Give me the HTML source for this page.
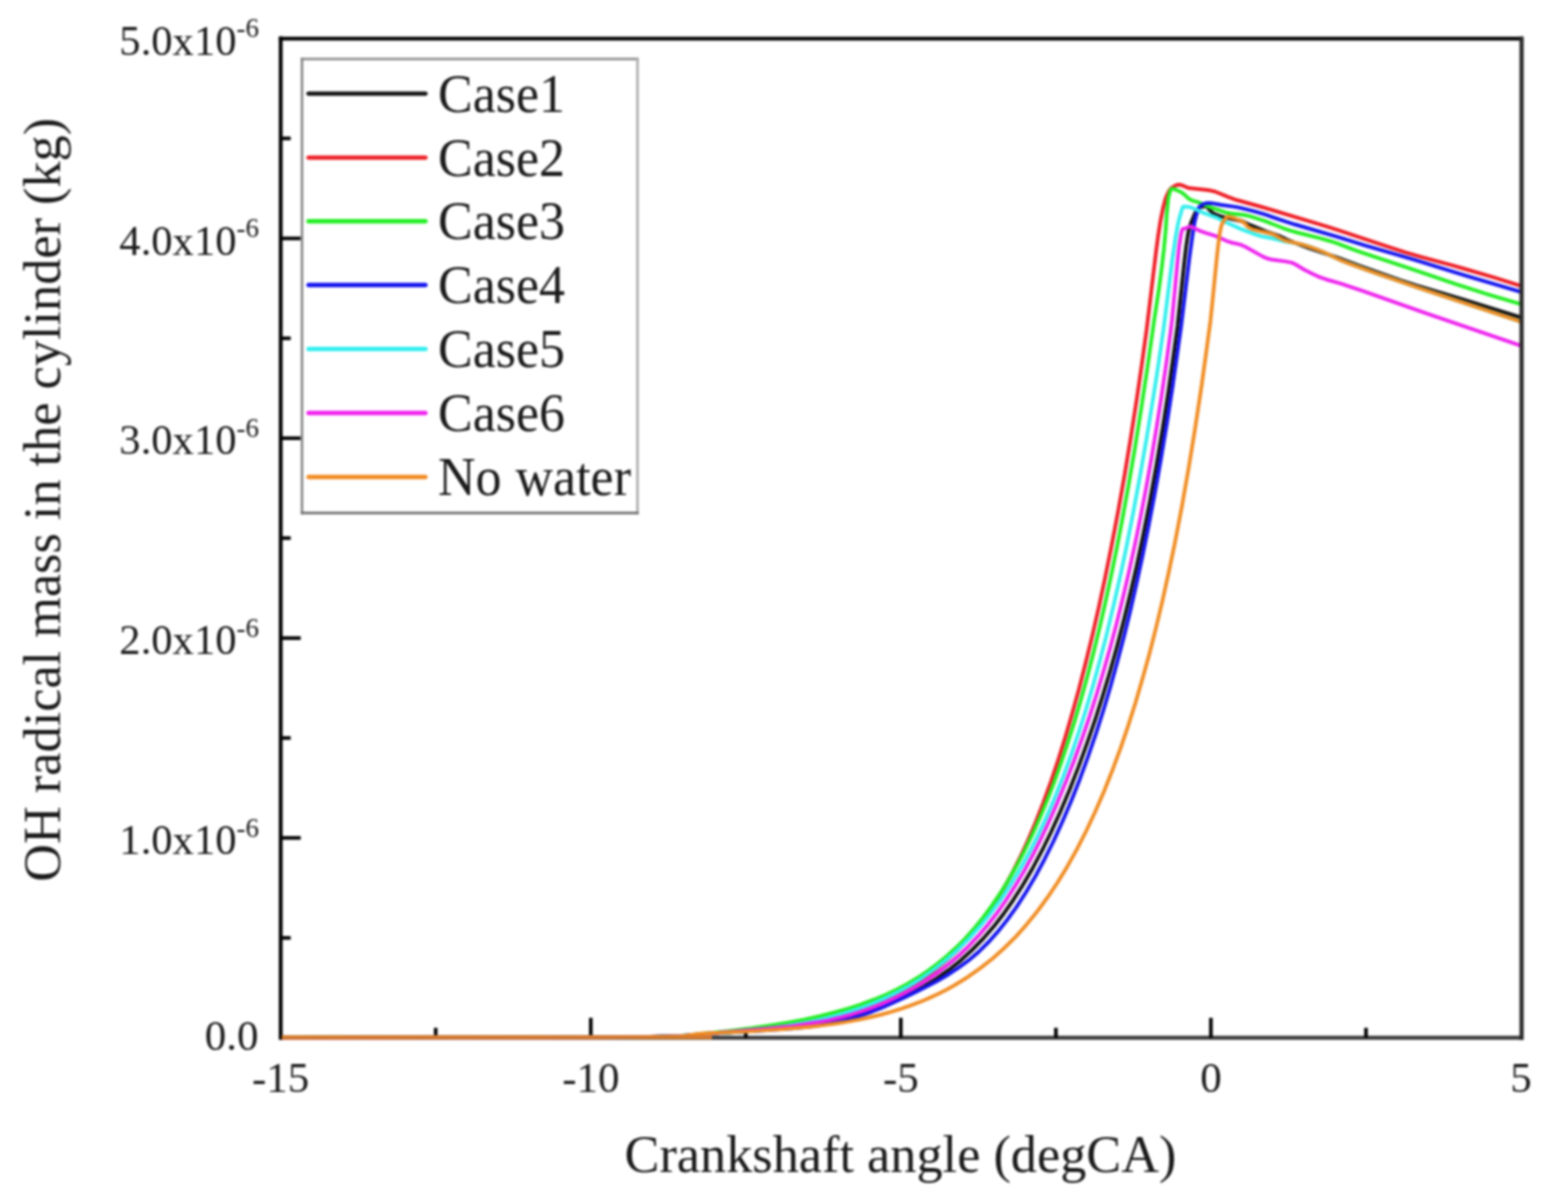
<!DOCTYPE html>
<html><head><meta charset="utf-8"><title>OH radical mass</title>
<style>
html,body{margin:0;padding:0;background:#fff;}
body{width:1547px;height:1201px;overflow:hidden;}
#w{filter:blur(0.8px);width:1547px;height:1201px;}
svg{display:block;font-family:"Liberation Serif","Times New Roman",serif;}
</style></head><body><div id="w">
<svg width="1547" height="1201" viewBox="0 0 1547 1201">
<rect width="1547" height="1201" fill="#fff"/>
<defs><clipPath id="c"><rect x="280.7" y="38.5" width="1240.3" height="1001.3"/></clipPath></defs>
<line x1="280.7" y1="1037.8" x2="1521.0" y2="1037.8" stroke="#3a3a3a" stroke-width="4"/>
<g stroke="#000" stroke-width="3.6"><line x1="435.7" y1="1037.8" x2="435.7" y2="1027.8"/><line x1="590.8" y1="1037.8" x2="590.8" y2="1017.8"/><line x1="745.8" y1="1037.8" x2="745.8" y2="1027.8"/><line x1="900.8" y1="1037.8" x2="900.8" y2="1017.8"/><line x1="1055.9" y1="1037.8" x2="1055.9" y2="1027.8"/><line x1="1210.9" y1="1037.8" x2="1210.9" y2="1017.8"/><line x1="1366.0" y1="1037.8" x2="1366.0" y2="1027.8"/><line x1="280.7" y1="937.9" x2="290.7" y2="937.9"/><line x1="280.7" y1="837.9" x2="300.7" y2="837.9"/><line x1="280.7" y1="738.0" x2="290.7" y2="738.0"/><line x1="280.7" y1="638.1" x2="300.7" y2="638.1"/><line x1="280.7" y1="538.1" x2="290.7" y2="538.1"/><line x1="280.7" y1="438.2" x2="300.7" y2="438.2"/><line x1="280.7" y1="338.3" x2="290.7" y2="338.3"/><line x1="280.7" y1="238.4" x2="300.7" y2="238.4"/><line x1="280.7" y1="138.4" x2="290.7" y2="138.4"/></g>
<g clip-path="url(#c)" fill="none" stroke-width="3.7" stroke-linejoin="round" stroke-linecap="round">
<path d="M280.7,1037.8 L535.5,1037.7 L603.7,1037.5 L637.2,1037.1 L663.0,1036.6 L686.2,1035.7 L759.0,1030.4 L786.7,1027.9 L798.2,1026.5 L808.7,1025.1 L819.0,1023.3 L829.0,1021.4 L838.7,1019.2 L849.0,1016.7 L859.5,1013.7 L869.7,1010.5 L879.5,1007.1 L889.0,1003.5 L898.2,999.5 L907.0,995.5 L915.5,991.1 L924.0,986.4 L937.0,978.3 L949.2,969.6 L961.0,960.2 L972.2,949.9 L983.0,938.9 L993.5,926.8 L1003.5,914.0 L1013.2,900.1 L1022.7,885.3 L1032.5,868.5 L1042.2,850.2 L1051.2,831.8 L1060.2,812.0 L1069.5,790.0 L1078.5,766.9 L1087.2,742.9 L1095.0,720.2 L1102.7,695.9 L1110.0,671.5 L1117.0,646.5 L1123.7,620.6 L1130.2,594.0 L1136.5,566.6 L1142.7,537.4 L1149.7,502.0 L1156.2,466.4 L1162.5,429.3 L1168.5,390.6 L1173.2,357.6 L1177.5,326.0 L1184.5,260.1 L1186.0,247.6 L1187.5,237.2 L1188.7,230.7 L1190.7,223.8 L1194.7,214.0 L1196.0,211.5 L1197.0,210.1 L1199.0,208.1 L1200.5,207.2 L1203.7,206.5 L1206.2,206.4 L1207.5,207.3 L1210.0,210.3 L1212.5,212.8 L1214.2,213.8 L1217.0,215.1 L1220.5,216.2 L1226.2,217.8 L1237.7,220.1 L1242.5,221.4 L1248.7,224.4 L1255.7,227.3 L1266.0,231.4 L1279.7,236.2 L1289.5,240.8 L1298.0,244.1 L1308.7,248.0 L1337.2,257.5 L1359.2,265.7 L1383.2,274.3 L1401.0,280.5 L1416.5,285.5 L1462.5,299.2 L1521.0,317.5" stroke="#111111"/>
<path d="M280.7,1037.8 L515.7,1037.7 L611.0,1037.4 L648.5,1036.9 L669.0,1036.4 L687.2,1035.6 L706.2,1034.3 L754.2,1029.9 L781.7,1026.9 L794.7,1025.0 L806.7,1023.1 L818.5,1020.8 L829.5,1018.4 L841.2,1015.4 L852.5,1012.2 L863.5,1008.5 L874.0,1004.6 L884.0,1000.5 L893.7,995.9 L903.0,991.1 L912.2,985.8 L924.0,978.2 L935.5,969.7 L946.2,960.7 L956.7,950.8 L966.7,940.2 L976.5,928.6 L985.7,916.3 L994.5,903.5 L1003.2,889.3 L1011.7,874.0 L1019.7,858.2 L1027.7,841.0 L1035.7,822.2 L1043.2,803.0 L1050.7,782.3 L1058.2,760.0 L1065.2,737.6 L1072.2,713.6 L1079.0,689.0 L1085.7,662.8 L1092.5,634.9 L1099.0,606.4 L1105.2,577.3 L1111.2,547.6 L1118.0,512.2 L1124.5,475.6 L1130.7,438.0 L1136.7,399.5 L1141.7,365.3 L1146.7,329.1 L1156.2,250.6 L1158.2,235.6 L1160.5,220.7 L1163.0,208.3 L1165.5,198.8 L1166.5,196.1 L1168.0,193.0 L1169.5,190.4 L1170.7,188.7 L1172.0,187.5 L1175.5,185.5 L1177.5,184.8 L1179.5,184.6 L1182.0,185.2 L1187.5,187.6 L1189.7,188.2 L1206.0,189.9 L1211.2,190.7 L1215.2,191.6 L1227.7,196.8 L1236.2,199.9 L1263.2,207.4 L1326.0,226.2 L1337.7,230.0 L1388.0,246.8 L1405.0,252.3 L1420.5,256.8 L1452.0,265.2 L1467.2,269.6 L1494.2,277.6 L1521.0,286.0" stroke="#ee1c24"/>
<path d="M280.7,1037.8 L553.2,1037.7 L611.5,1037.4 L654.7,1036.8 L676.5,1036.2 L688.5,1035.4 L728.2,1031.0 L752.0,1028.1 L770.7,1025.4 L788.2,1022.5 L804.5,1019.5 L820.0,1016.1 L834.7,1012.4 L848.5,1008.5 L861.5,1004.2 L874.0,999.6 L886.0,994.6 L897.0,989.4 L907.5,983.8 L917.7,977.7 L927.7,971.0 L937.5,963.8 L946.7,956.2 L955.5,948.2 L965.0,938.7 L974.2,928.4 L983.0,917.7 L991.7,905.9 L1000.2,893.4 L1008.5,880.1 L1016.5,866.0 L1024.5,850.8 L1032.0,835.3 L1039.5,818.6 L1046.7,801.3 L1054.0,782.6 L1061.0,763.1 L1067.7,743.1 L1074.5,721.6 L1081.0,699.5 L1087.5,675.9 L1093.5,652.7 L1099.5,628.1 L1105.5,601.9 L1111.2,575.3 L1117.0,547.2 L1122.7,517.3 L1128.2,487.1 L1135.0,447.7 L1141.7,405.5 L1147.5,367.2 L1154.0,321.6 L1159.0,288.6 L1161.7,268.2 L1164.0,248.4 L1165.7,230.1 L1166.7,215.0 L1168.2,199.3 L1168.7,196.6 L1170.0,191.8 L1170.7,189.9 L1171.5,188.9 L1173.2,188.9 L1175.7,189.6 L1182.0,192.6 L1184.0,194.2 L1188.2,198.3 L1190.5,199.7 L1193.0,200.7 L1199.2,202.6 L1210.5,207.2 L1221.5,211.1 L1226.0,212.5 L1230.0,213.4 L1243.7,214.9 L1250.0,216.3 L1264.2,220.8 L1282.5,227.9 L1290.0,230.5 L1298.5,232.9 L1320.2,238.3 L1330.2,241.1 L1338.2,243.8 L1355.2,250.3 L1363.2,253.1 L1411.5,268.9 L1455.5,284.0 L1489.0,294.7 L1521.0,304.2" stroke="#22ee22"/>
<path d="M280.7,1037.8 L549.7,1037.7 L609.7,1037.4 L651.7,1036.9 L668.5,1036.4 L682.5,1035.9 L716.5,1032.8 L767.0,1030.2 L795.0,1028.1 L815.5,1025.8 L824.7,1024.4 L833.2,1022.9 L841.2,1021.1 L848.7,1019.3 L856.2,1017.1 L864.0,1014.6 L872.5,1011.4 L881.7,1007.7 L891.7,1003.4 L903.2,998.0 L917.7,991.0 L928.5,985.6 L937.5,980.8 L946.5,975.6 L958.5,967.8 L968.7,960.3 L978.5,952.0 L988.2,942.4 L997.7,931.8 L1007.2,919.9 L1016.5,907.0 L1026.0,892.3 L1035.5,876.1 L1044.5,859.3 L1053.5,841.2 L1062.7,820.9 L1071.5,800.3 L1080.0,778.7 L1088.2,756.2 L1096.2,732.8 L1103.5,710.0 L1110.5,686.5 L1117.2,662.3 L1124.0,636.5 L1130.5,610.0 L1136.7,582.8 L1142.7,555.0 L1148.7,525.4 L1155.0,492.5 L1161.0,458.7 L1167.0,422.6 L1172.5,387.2 L1181.2,325.8 L1189.5,257.0 L1193.0,231.7 L1194.7,221.6 L1196.0,216.3 L1198.0,209.6 L1198.7,208.0 L1199.5,206.9 L1201.5,205.0 L1204.0,203.8 L1207.0,203.1 L1210.2,203.1 L1213.5,203.5 L1221.2,204.9 L1236.2,207.0 L1242.0,208.3 L1254.0,211.3 L1265.2,214.6 L1285.5,221.5 L1294.7,224.4 L1337.2,236.7 L1365.2,245.4 L1413.5,259.5 L1467.7,276.3 L1521.0,292.0" stroke="#1414ee"/>
<path d="M280.7,1037.8 L522.7,1037.7 L622.2,1037.3 L656.2,1036.8 L681.7,1035.9 L698.0,1035.0 L730.2,1032.5 L745.2,1031.2 L759.2,1029.7 L772.7,1028.0 L785.7,1026.1 L798.0,1024.0 L810.0,1021.7 L821.5,1019.2 L832.5,1016.5 L843.2,1013.5 L853.5,1010.3 L863.5,1006.9 L873.2,1003.2 L882.7,999.2 L891.7,995.0 L900.5,990.6 L909.2,985.8 L922.2,977.8 L934.7,969.0 L946.7,959.5 L958.2,949.3 L969.5,938.0 L980.2,926.1 L990.7,913.2 L1000.5,899.9 L1010.2,885.3 L1019.7,869.7 L1029.0,853.0 L1037.7,835.8 L1046.5,817.1 L1055.0,797.3 L1063.2,776.4 L1071.2,754.6 L1078.7,732.5 L1086.0,709.5 L1093.2,684.9 L1100.2,659.4 L1107.0,633.1 L1113.7,605.0 L1120.5,575.1 L1127.0,544.3 L1133.7,510.2 L1140.2,475.1 L1146.7,437.8 L1153.2,398.0 L1158.5,364.0 L1163.7,328.1 L1172.2,260.6 L1175.7,236.3 L1177.7,225.5 L1179.5,217.7 L1182.0,209.2 L1182.7,207.3 L1183.2,206.6 L1184.5,206.5 L1187.5,206.8 L1190.5,207.3 L1192.2,207.9 L1204.0,213.1 L1216.7,217.7 L1223.5,221.1 L1239.7,228.5 L1246.7,231.3 L1257.0,235.0 L1262.2,236.5 L1272.7,238.4 L1284.7,241.4 L1300.2,244.0 L1308.5,246.3 L1315.0,248.7 L1323.0,251.8 L1337.0,258.6 L1342.7,261.1 L1371.7,271.7 L1419.2,288.0 L1521.0,321.7" stroke="#33eeee"/>
<path d="M280.7,1037.8 L556.5,1037.7 L613.0,1037.4 L657.0,1036.8 L680.7,1036.0 L695.2,1035.0 L723.2,1032.3 L769.5,1028.4 L792.5,1026.0 L805.5,1024.2 L818.0,1022.2 L829.7,1020.0 L841.0,1017.4 L851.5,1014.6 L862.0,1011.3 L872.2,1007.7 L882.2,1003.7 L892.7,999.0 L903.2,993.8 L913.2,988.3 L923.0,982.5 L932.2,976.4 L941.2,969.9 L950.0,963.1 L958.5,955.8 L968.5,946.3 L978.2,936.1 L987.7,925.0 L997.0,913.1 L1006.0,900.3 L1014.7,886.8 L1023.5,872.1 L1032.0,856.6 L1040.5,839.8 L1049.2,821.2 L1057.5,802.4 L1065.7,782.4 L1074.0,761.0 L1082.0,738.8 L1089.5,716.8 L1097.0,693.2 L1103.7,670.7 L1110.5,646.7 L1117.0,622.0 L1123.2,596.8 L1129.2,570.9 L1135.2,543.3 L1140.7,516.4 L1146.2,487.6 L1151.5,458.2 L1156.7,426.8 L1161.5,396.4 L1166.2,363.9 L1170.5,332.8 L1172.0,320.5 L1177.5,262.3 L1179.2,246.1 L1181.0,234.4 L1182.0,230.4 L1182.7,229.1 L1186.7,227.9 L1189.5,226.6 L1190.5,226.5 L1192.0,226.9 L1197.5,229.8 L1201.7,231.6 L1205.2,232.8 L1215.7,236.0 L1228.2,241.6 L1231.5,242.6 L1239.0,244.2 L1242.2,245.3 L1246.0,247.1 L1262.7,256.5 L1267.0,258.4 L1272.2,259.7 L1286.0,261.5 L1292.0,262.8 L1295.5,264.4 L1303.7,269.3 L1312.5,273.8 L1317.5,276.2 L1321.5,277.8 L1326.7,279.6 L1339.7,283.3 L1362.2,290.7 L1426.7,313.4 L1521.0,345.8" stroke="#ee22ee"/>
<path d="M280.7,1037.8 L543.7,1037.7 L607.2,1037.5 L645.7,1037.0 L665.2,1036.6 L680.7,1036.0 L686.2,1035.5 L699.0,1033.9 L704.7,1033.4 L747.7,1031.5 L783.2,1029.2 L812.0,1026.6 L825.0,1025.0 L837.2,1023.3 L848.7,1021.5 L860.0,1019.4 L870.7,1017.1 L881.2,1014.6 L891.5,1011.8 L901.2,1008.8 L910.5,1005.6 L919.7,1002.1 L928.7,998.3 L937.7,994.1 L946.2,989.8 L954.7,985.1 L967.7,977.1 L980.2,968.3 L992.5,958.6 L1004.2,948.1 L1015.7,936.7 L1026.7,924.4 L1037.5,911.2 L1047.7,897.2 L1057.7,882.2 L1067.5,866.2 L1077.0,849.2 L1086.2,831.0 L1095.2,811.8 L1104.0,791.5 L1112.2,770.8 L1120.5,748.4 L1128.0,726.4 L1135.5,702.7 L1142.7,678.0 L1149.5,653.4 L1156.0,627.9 L1162.5,600.6 L1168.7,572.5 L1175.0,542.3 L1182.0,505.8 L1188.7,467.7 L1195.2,427.9 L1201.5,386.4 L1206.2,352.6 L1210.5,320.4 L1212.2,304.3 L1217.0,256.0 L1218.5,242.9 L1219.7,233.9 L1221.0,227.2 L1222.0,224.0 L1223.0,222.1 L1226.5,217.2 L1227.5,216.5 L1229.5,216.8 L1235.0,218.4 L1239.7,220.4 L1242.2,221.7 L1244.5,223.1 L1248.5,227.4 L1251.7,228.9 L1255.0,229.9 L1260.5,231.3 L1271.2,233.6 L1274.2,234.8 L1281.5,238.9 L1284.7,240.4 L1288.7,241.5 L1300.5,244.1 L1307.5,246.2 L1314.5,248.5 L1323.7,252.1 L1336.5,258.4 L1342.0,260.8 L1350.2,264.0 L1371.0,271.4 L1419.0,287.9 L1521.0,321.7" stroke="#f08c22"/>
</g>
<g fill="none" stroke-linecap="square">
<line x1="280.7" y1="38.5" x2="280.7" y2="1037.8" stroke="#000" stroke-width="3.8"/>
<line x1="280.7" y1="38.7" x2="1521.0" y2="38.7" stroke="#000" stroke-width="3.8"/>
<line x1="1521.6" y1="38.5" x2="1521.6" y2="1037.8" stroke="#2a2a2a" stroke-width="4.2"/>
</g>
<line x1="281.7" y1="1037.2" x2="712.0" y2="1037.2" stroke="#d57a2c" stroke-width="4"/>
<rect x="302.0" y="59.0" width="335.5" height="454.0" fill="#fff"/>
<g stroke-width="2.4" stroke-linecap="square">
<line x1="302.0" y1="59.0" x2="637.5" y2="59.0" stroke="#8c8c8c"/>
<line x1="302.0" y1="59.0" x2="302.0" y2="513.0" stroke="#808080"/>
<line x1="637.5" y1="59.0" x2="637.5" y2="513.0" stroke="#a8a8a8"/>
<line x1="302.0" y1="513.0" x2="637.5" y2="513.0" stroke="#6a6a6a"/>
</g>
<line x1="308.5" y1="93.6" x2="425.5" y2="93.6" stroke="#111111" stroke-width="4.4" stroke-linecap="round"/>
<text transform="translate(438,111.6) scale(1,1.075)" font-size="52" fill="#1a1a1a" word-spacing="1">Case1</text>
<line x1="308.5" y1="157.6" x2="425.5" y2="157.6" stroke="#ee1c24" stroke-width="4.4" stroke-linecap="round"/>
<text transform="translate(438,175.6) scale(1,1.075)" font-size="52" fill="#1a1a1a" word-spacing="1">Case2</text>
<line x1="308.5" y1="221.2" x2="425.5" y2="221.2" stroke="#22ee22" stroke-width="4.4" stroke-linecap="round"/>
<text transform="translate(438,239.2) scale(1,1.075)" font-size="52" fill="#1a1a1a" word-spacing="1">Case3</text>
<line x1="308.5" y1="285.0" x2="425.5" y2="285.0" stroke="#1414ee" stroke-width="4.4" stroke-linecap="round"/>
<text transform="translate(438,303.0) scale(1,1.075)" font-size="52" fill="#1a1a1a" word-spacing="1">Case4</text>
<line x1="308.5" y1="349.0" x2="425.5" y2="349.0" stroke="#33eeee" stroke-width="4.4" stroke-linecap="round"/>
<text transform="translate(438,367.0) scale(1,1.075)" font-size="52" fill="#1a1a1a" word-spacing="1">Case5</text>
<line x1="308.5" y1="413.0" x2="425.5" y2="413.0" stroke="#ee22ee" stroke-width="4.4" stroke-linecap="round"/>
<text transform="translate(438,431.0) scale(1,1.075)" font-size="52" fill="#1a1a1a" word-spacing="1">Case6</text>
<line x1="308.5" y1="477.0" x2="425.5" y2="477.0" stroke="#f08c22" stroke-width="4.4" stroke-linecap="round"/>
<text transform="translate(438,495.0) scale(1,1.075)" font-size="52" fill="#1a1a1a" word-spacing="1">No water</text>
<g fill="#1a1a1a"><text x="280.7" y="1091.5" text-anchor="middle" font-size="43">-15</text><text x="590.8" y="1091.5" text-anchor="middle" font-size="43">-10</text><text x="900.8" y="1091.5" text-anchor="middle" font-size="43">-5</text><text x="1210.9" y="1091.5" text-anchor="middle" font-size="43">0</text><text x="1521.0" y="1091.5" text-anchor="middle" font-size="43">5</text><text x="258.5" y="1050.0" text-anchor="end" font-size="43">0.0</text><text x="259" y="854.1" text-anchor="end" font-size="42.6">1.0x10<tspan font-size="27" dy="-17.5">-6</tspan></text><text x="259" y="654.3" text-anchor="end" font-size="42.6">2.0x10<tspan font-size="27" dy="-17.5">-6</tspan></text><text x="259" y="454.4" text-anchor="end" font-size="42.6">3.0x10<tspan font-size="27" dy="-17.5">-6</tspan></text><text x="259" y="254.6" text-anchor="end" font-size="42.6">4.0x10<tspan font-size="27" dy="-17.5">-6</tspan></text><text x="259" y="54.7" text-anchor="end" font-size="42.6">5.0x10<tspan font-size="27" dy="-17.5">-6</tspan></text></g>
<text x="900.5" y="1172" text-anchor="middle" font-size="52.3" fill="#1a1a1a">Crankshaft angle (degCA)</text>
<text transform="translate(59.5,499.8) rotate(-90)" text-anchor="middle" font-size="52.3" fill="#1a1a1a">OH radical mass in the cylinder (kg)</text>
</svg>
</div></body></html>
